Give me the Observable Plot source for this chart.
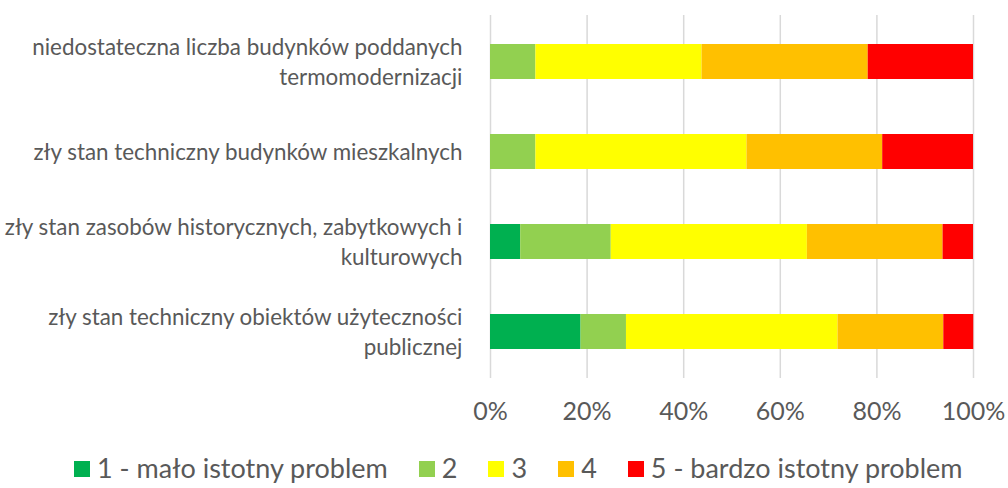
<!DOCTYPE html>
<html>
<head>
<meta charset="utf-8">
<script src="https://cdn.jsdelivr.net/npm/d3@7"></script>
<script src="https://cdn.jsdelivr.net/npm/@observablehq/plot@0.6"></script>
<style>
  html, body { margin: 0; padding: 0; background: #fff; overflow: hidden; }
  #chart { width: 1008px; }
  .legend { display: flex; justify-content: flex-start; align-items: center; height: 34px; padding-top: 3px; padding-left: 74px; font-family: Lato, sans-serif; font-size: 27px; line-height: 1.15; color: #595959; white-space: nowrap; }
  .legend .item { display: flex; align-items: center; margin-right: 31px; }
  .legend .sw { width: 16px; height: 16px; margin-right: 7px; margin-top: 3px; display: inline-block; }
</style>
</head>
<body>
<div id="chart"></div>
<script>
const categories = [
  "niedostateczna liczba budynków poddanych\ntermomodernizacji",
  "zły stan techniczny budynków mieszkalnych",
  "zły stan zasobów historycznych, zabytkowych i\nkulturowych",
  "zły stan techniczny obiektów użyteczności\npublicznej"
];
const levels = ["1 - mało istotny problem", "2", "3", "4", "5 - bardzo istotny problem"];
const colors = ["#00B050", "#92D050", "#FFFF00", "#FFC000", "#FF0000"];
// percentage shares per level, one value per category (in order above)
const level1 = [0, 0, 6.25, 18.75];
const level2 = [9.4, 9.4, 18.75, 9.4];
const level3 = [34.4, 43.7, 40.6, 43.8];
const level4 = [34.4, 28.1, 28.1, 21.9];
const level5 = [21.8, 18.8, 6.3, 6.2];
const tickValues = [0, 20, 40, 60, 80, 100];

const series = [level1, level2, level3, level4, level5];
const data = [];
categories.forEach((c, i) => {
  levels.forEach((l, j) => data.push({category: c, level: l, value: series[j][i]}));
});

const font = "Lato, sans-serif";
const plot = Plot.plot({
  width: 1008,
  height: 448,
  marginLeft: 490,
  marginRight: 35,
  marginTop: 15,
  marginBottom: 70,
  style: {fontFamily: font, color: "#595959", background: "#fff"},
  x: {domain: [0, 100], ticks: tickValues, label: null},
  y: {domain: categories, paddingInner: 0.61, paddingOuter: 0.3, label: null},
  color: {domain: levels, range: colors},
  marks: [
    Plot.ruleX(tickValues, {stroke: "#D9D9D9", strokeWidth: 1.5}),
    Plot.barX(data, Plot.stackX({x: "value", y: "category", fill: "level", order: levels})),
    Plot.axisX({ticks: tickValues, tickSize: 0, tickPadding: 24, fontSize: 25, fill: "#595959", tickFormat: d => d + "%", label: null}),
    Plot.axisY({tickSize: 0, tickPadding: 28, dy: -2, fontSize: 22.4, lineHeight: 1.34, fill: "#595959", label: null})
  ]
});
document.getElementById("chart").appendChild(plot);

const legend = document.createElement("div");
legend.className = "legend";
levels.forEach((l, j) => {
  const it = document.createElement("span");
  it.className = "item";
  const sw = document.createElement("span");
  sw.className = "sw";
  sw.style.background = colors[j];
  it.appendChild(sw);
  it.appendChild(document.createTextNode(l));
  legend.appendChild(it);
});
document.getElementById("chart").appendChild(legend);
</script>
</body>
</html>
